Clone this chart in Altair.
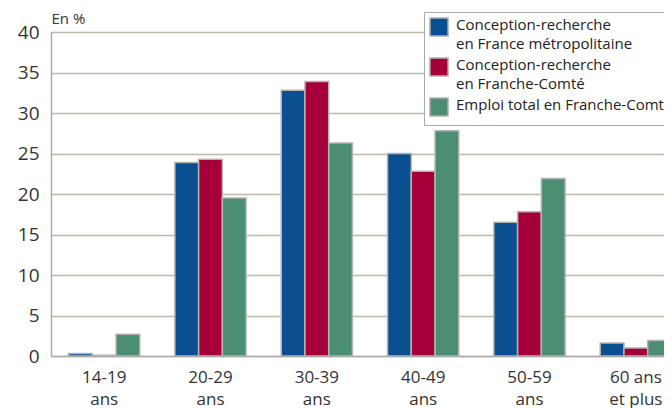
import altair as alt
import pandas as pd

categories = ["14-19\nans", "20-29\nans", "30-39\nans", "40-49\nans", "50-59\nans", "60 ans\net plus"]
series = [
    "Conception-recherche\nen France métropolitaine",
    "Conception-recherche\nen Franche-Comté",
    "Emploi total en Franche-Comté",
]
france = [0.3, 23.9, 32.8, 25.0, 16.5, 1.6]
franche_comte = [0.1, 24.3, 33.9, 22.8, 17.8, 1.0]
emploi_total = [2.7, 19.5, 26.3, 27.8, 21.9, 1.9]
colors = ["#0A5090", "#A6003A", "#4B8E72"]

rows = []
for s, vals in zip(series, [france, franche_comte, emploi_total]):
    for c, v in zip(categories, vals):
        rows.append({"age": c, "serie": s, "valeur": v})
df = pd.DataFrame(rows)

FONT = "Open Sans"

chart = alt.Chart(df).mark_bar(
    stroke="#B4B4B4", strokeWidth=1.5, clip=True
).encode(
    x=alt.X("age:N", sort=categories,
            scale=alt.Scale(range=[0, 638], paddingInner=0.33, paddingOuter=0.165),
            axis=alt.Axis(title=None, labelAngle=0, ticks=False, labelPadding=10,
                          labelExpr="split(datum.label, '\\n')", labelLineHeight=22,
                          labelFontSize=17, labelColor="#333333", labelFont=FONT,
                          domainColor="#AAAAAA", domainWidth=1.5, grid=False)),
    xOffset=alt.XOffset("serie:N", sort=series),
    y=alt.Y("valeur:Q", scale=alt.Scale(domain=[0, 40], nice=False),
            axis=alt.Axis(values=list(range(0, 41, 5)), title="En %", titleAngle=0,
                          titleAlign="left", titleBaseline="middle", titleX=0, titleY=-14,
                          titleFontSize=15, titleFontWeight="normal", titleFont=FONT,
                          titleColor="#333333", labelOffset=-3,
                          ticks=False, labelPadding=12, labelFontSize=19, labelFont=FONT,
                          labelColor="#333333", domainColor="#AAAAAA", domainWidth=1.5,
                          gridColor="#BDBAA8", gridWidth=1.5)),
    color=alt.Color("serie:N", sort=series,
                    scale=alt.Scale(domain=series, range=colors),
                    legend=alt.Legend(title=None, orient="none", legendX=373, legendY=-20,
                                      fillColor="white", strokeColor="#AAAAAA",
                                      padding=5, symbolType="square", symbolSize=330,
                                      symbolStrokeColor="#B4B4B4", symbolStrokeWidth=1.5,
                                      labelFontSize=15, labelFont=FONT, labelColor="#222222",
                                      labelExpr="split(datum.label, '\\n')",
                                      labelBaseline="alphabetic", labelOffset=7, rowPadding=2,
                                      labelLimit=400)),
).properties(
    width=613, height=324,
    autosize=alt.AutoSizeParams(type="none"),
    padding={"left": 43, "top": 24, "right": 0, "bottom": 52},
).configure_view(
    fill="#FFF9CE", stroke="#AAAAAA", strokeWidth=1.5
).configure(
    style={"guide-label": {"lineHeight": 19, "dy": 3}}
)

chart.save("out.html", embed_options={"renderer": "svg", "actions": False})
